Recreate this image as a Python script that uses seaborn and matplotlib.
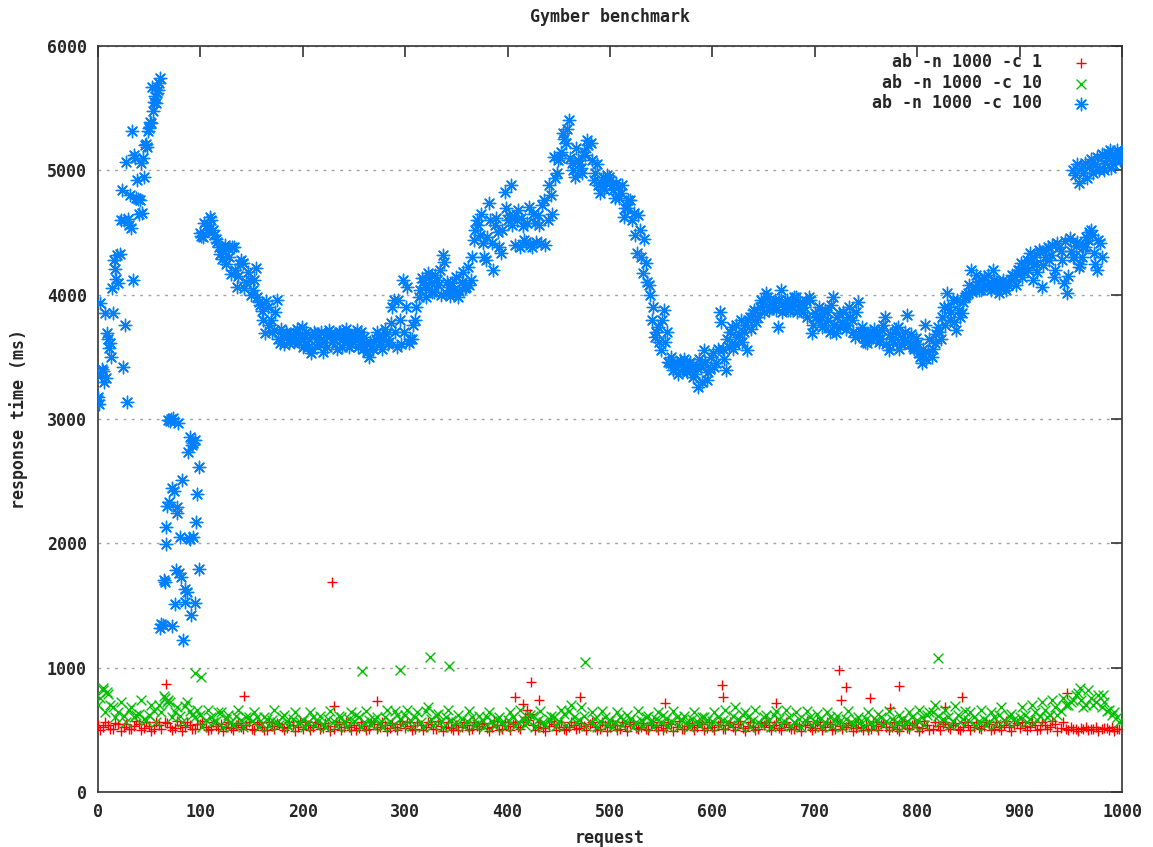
import numpy as np
import pandas as pd
import matplotlib
matplotlib.use("Agg")
import matplotlib.pyplot as plt
import seaborn as sns

# ---------------- data ----------------
title = "Gymber benchmark"
xlabel = "request"
ylabel = "response time (ms)"
labels = ["ab -n 1000 -c 1", "ab -n 1000 -c 10", "ab -n 1000 -c 100"]
x_ticks = [0, 100, 200, 300, 400, 500, 600, 700, 800, 900, 1000]
y_ticks = [0, 1000, 2000, 3000, 4000, 5000, 6000]

# -c 1 : requests 0,5,10,...  and 2,7,12,...  plus the visible outliers
red_a_ms = [
    540, 520, 535, 510, 550, 525, 505, 530, 545, 515,
    530, 510, 540, 560, 525, 515, 540, 520, 535, 510,
    545, 520, 505, 530, 550, 525, 515, 540, 520, 535,
    510, 545, 525, 500, 530, 555, 520, 515, 540, 525,
    505, 535, 520, 545, 515, 530, 510, 550, 525, 520,
    540, 515, 530, 505, 545, 520, 535, 515, 525, 550,
    515, 530, 505, 540, 520, 545, 510, 530, 525, 515,
    540, 520, 535, 505, 530, 550, 515, 525, 540, 510,
    530, 545, 520, 560, 580, 540, 525, 515, 530, 545,
    520, 505, 525, 540, 515, 530, 550, 520, 510, 535,
    525, 540, 510, 530, 545, 515, 525, 505, 540, 520,
    535, 515, 545, 525, 510, 530, 540, 520, 550, 515,
    525, 540, 510, 535, 520, 545, 515, 530, 525, 510,
    540, 520, 535, 515, 545, 525, 510, 530, 540, 520,
    515, 535, 525, 545, 510, 530, 520, 540, 515, 525,
    540, 510, 530, 545, 520, 525, 505, 535, 515, 540,
    525, 515, 540, 510, 530, 550, 520, 535, 510, 525,
    540, 520, 515, 530, 545, 510, 525, 540, 520, 535,
    515, 530, 525, 540, 510, 535, 520, 545, 515, 510,
    520, 505, 515, 525, 510, 520, 505, 515, 525, 510,
]
red_b_ms = [
    495, 565, 510, 555, 490, 550, 505, 570, 500, 560,
    490, 565, 505, 555, 495, 570, 490, 560, 505, 550,
    570, 495, 560, 505, 490, 565, 500, 555, 505, 560,
    500, 560, 495, 565, 505, 550, 500, 560, 490, 570,
    560, 495, 565, 505, 555, 490, 560, 500, 560, 500,
    495, 560, 500, 560, 505, 565, 490, 555, 500, 570,
    560, 500, 565, 495, 560, 505, 570, 490, 560, 500,
    500, 565, 495, 560, 505, 555, 490, 570, 500, 560,
    495, 560, 505, 600, 630, 500, 560, 490, 570, 500,
    560, 500, 565, 505, 555, 495, 560, 500, 565, 490,
    570, 500, 560, 490, 560, 505, 555, 495, 565, 500,
    500, 560, 490, 570, 505, 555, 500, 565, 495, 560,
    495, 565, 505, 560, 500, 570, 490, 560, 500, 555,
    560, 495, 565, 500, 560, 505, 550, 490, 570, 500,
    565, 500, 560, 495, 570, 505, 555, 490, 560, 500,
    500, 560, 495, 565, 500, 560, 490, 570, 505, 555,
    490, 570, 500, 560, 500, 565, 505, 555, 495, 560,
    500, 560, 505, 565, 495, 560, 500, 570, 490, 555,
    560, 500, 565, 495, 560, 505, 570, 490, 560, 500,
    505, 490, 510, 495, 505, 490, 515, 495, 490, 505,
]
red_out_req = [66, 143, 229, 230, 272, 407, 415, 419, 423, 431, 471, 554, 609, 610,
               662, 724, 726, 730, 754, 773, 782, 827, 844, 946]
red_out_ms = [869, 772, 1689, 692, 732, 764, 708, 660, 885, 740, 764, 716, 860, 764,
              716, 981, 740, 844, 756, 676, 853, 684, 764, 796]

# -c 10 : requests 0,5,10,...  and 2,7,12,...  plus the visible outliers
green_a_ms = [
    700, 820, 790, 680, 640, 610, 660, 600, 630, 590,
    620, 650, 700, 760, 720, 640, 610, 690, 650, 600,
    620, 580, 600, 570, 640, 590, 560, 610, 580, 600,
    570, 600, 550, 590, 580, 560, 600, 570, 590, 555,
    580, 560, 600, 575, 550, 590, 570, 610, 560, 585,
    570, 600, 560, 580, 590, 555, 600, 570, 650, 590,
    620, 580, 600, 560, 650, 590, 620, 570, 600, 580,
    560, 590, 570, 600, 550, 580, 600, 570, 590, 560,
    580, 600, 560, 590, 570, 610, 580, 560, 590, 600,
    570, 630, 650, 600, 580, 610, 560, 590, 570, 600,
    580, 560, 600, 570, 590, 560, 580, 600, 570, 590,
    560, 590, 570, 600, 580, 560, 590, 570, 600, 580,
    570, 600, 580, 560, 610, 590, 620, 600, 580, 560,
    600, 580, 620, 590, 570, 600, 560, 590, 580, 600,
    570, 590, 560, 600, 580, 570, 590, 560, 580, 570,
    590, 560, 580, 600, 570, 590, 560, 580, 570, 600,
    580, 600, 620, 640, 610, 590, 600, 570, 620, 590,
    580, 600, 570, 590, 560, 600, 620, 580, 610, 590,
    600, 620, 590, 640, 610, 660, 620, 680, 650, 700,
    720, 780, 740, 700, 760, 720, 680, 650, 620, 600,
]
green_b_ms = [
    760, 640, 700, 600, 720, 560, 680, 620, 740, 580,
    700, 560, 640, 720, 600, 680, 560, 720, 620, 660,
    520, 660, 560, 640, 520, 620, 540, 660, 520, 600,
    640, 520, 600, 530, 660, 540, 620, 520, 640, 560,
    520, 640, 540, 610, 520, 650, 530, 600, 520, 640,
    620, 520, 650, 540, 600, 520, 660, 530, 620, 540,
    660, 530, 640, 520, 680, 540, 630, 520, 660, 540,
    620, 520, 650, 540, 610, 520, 640, 530, 600, 520,
    640, 530, 660, 540, 620, 520, 650, 540, 610, 530,
    660, 540, 700, 560, 680, 530, 640, 520, 650, 540,
    520, 640, 540, 620, 520, 650, 530, 610, 520, 640,
    620, 520, 650, 530, 610, 520, 640, 540, 600, 520,
    640, 530, 660, 540, 680, 530, 640, 520, 660, 540,
    620, 520, 650, 540, 660, 530, 640, 520, 650, 540,
    630, 520, 640, 530, 610, 520, 650, 540, 600, 520,
    640, 520, 630, 540, 650, 520, 620, 530, 640, 530,
    660, 540, 640, 700, 560, 660, 540, 690, 560, 650,
    640, 530, 660, 540, 640, 550, 680, 560, 630, 560,
    680, 560, 700, 580, 720, 600, 740, 620, 760, 700,
    740, 800, 680, 820, 700, 780, 720, 660, 640, 560,
]
green_out_req = [5, 9, 64, 68, 95, 101, 258, 295, 324, 343, 476, 820, 959, 981]
green_out_ms = [836, 804, 770, 740, 957, 925, 973, 981, 1086, 1014, 1046, 1078, 836, 780]

# -c 100 : requests 0..100 (irregular), then requests 100,103,... and 101,104,...,
# plus the upper cluster at the end
blue_early_req = [0, 0, 1, 2, 3, 4, 5, 6, 7, 8, 9, 10, 11, 12, 13, 14, 15, 16, 17, 18,
                  19, 20, 21, 22, 23, 24, 25, 26, 27, 28, 29, 30, 31, 32, 33, 34, 35, 36,
                  37, 38, 39, 40, 41, 42, 43, 44, 45, 46, 47, 48, 49, 50, 51, 52, 53, 54,
                  55, 56, 57, 58, 59, 60, 61,
                  61, 62, 63, 64, 65, 66, 66, 67, 68, 69, 70, 71, 72, 72, 73, 74, 75, 76,
                  77, 77, 78, 79, 80, 81, 82, 83, 85, 85, 87, 88, 89, 90, 90, 91, 92, 93,
                  93, 95, 95, 96, 97, 99, 99]
blue_early_ms = [3150, 3180, 3120, 3930, 3350, 3400, 3390, 3300, 3850, 3330, 3690, 3640,
                 3570, 3610, 3500, 4050, 3850, 4280, 4210, 4130, 4320, 4090, 4330, 4600,
                 4840, 3420, 4600, 3760, 5070, 3140, 4610, 4560, 4800, 4540, 5320, 4120,
                 5120, 5100, 4780, 4920, 4770, 4650, 4760, 5060, 4660, 5100, 4950, 5200,
                 5210, 5190, 5320, 5340, 5390, 5380, 5670, 5480, 5550, 5600, 5540, 5620,
                 5650, 5700, 5740,
                 1319, 1351, 1340, 1705, 1690, 2131, 1995, 2300, 2992, 2332, 2980, 3000,
                 2445, 1335, 3008, 2420, 1512, 1786, 2292, 2244, 2968, 1760, 2051, 1729,
                 2509, 1223, 1633, 1528, 1609, 2735, 2040, 2855, 2035, 1424, 2790, 2051,
                 2807, 2831, 1520, 2172, 2397, 2614, 1794]
blue_a_ms = [
    4496, 4464, 4560, 4625, 4520, 4450, 4380, 4290, 4400, 4375,
    4170, 4383, 4062, 4250, 4255, 4100, 4118, 4040, 4214, 3941,
    3870, 3690, 3901, 3796, 3716, 3957, 3611, 3659, 3700, 3611,
    3680, 3692, 3620, 3740, 3660, 3580, 3531, 3700, 3640, 3600,
    3539, 3680, 3716, 3620, 3659, 3700, 3579, 3692, 3640, 3600,
    3680, 3716, 3620, 3560, 3611, 3499, 3590, 3640, 3659, 3560,
    3720, 3600, 3772, 3957, 3579, 3796, 4118, 3901, 3611, 3640,
    3796, 3981, 4134, 4062, 4174, 4094, 4020, 4118, 4200, 4319,
    4013, 4060, 4094, 4013, 3980, 4100, 4050, 4222, 4118, 4440,
    4600, 4480, 4416, 4280, 4737, 4416, 4560, 4500, 4335, 4826,
    4600, 4882, 4624, 4600, 4383, 4550, 4420, 4705, 4383, 4576,
    4640, 4416, 4761, 4600, 4802, 5107, 4978, 5100, 5300, 5220,
    5405, 5059, 4946, 5083, 5020, 5150, 5244, 5220, 4922, 5050,
    4818, 4946, 4900, 4946, 4880, 4777, 4866, 4818, 4624, 4700,
    4761, 4657, 4335, 4520, 4174, 4255, 4078, 3796, 3659, 3740,
    3555, 3877, 3700, 3450, 3394, 3450, 3475, 3400, 3394, 3440,
    3410, 3360, 3257, 3418, 3555, 3314, 3400, 3531, 3450, 3861,
    3560, 3394, 3579, 3740, 3600, 3659, 3796, 3700, 3555, 3820,
    3853, 3780, 3901, 3940, 4013, 3880, 3920, 3957, 3740, 4038,
    3900, 3960, 3877, 3940, 3981, 3900, 3860, 3950, 3981, 3692,
    3853, 3796, 3820, 3760, 3860, 3700, 3981, 3692, 3853, 3780,
    3720, 3901, 3800, 3659, 3941, 3700, 3650, 3611, 3700, 3660,
    3659, 3620, 3716, 3820, 3555, 3640, 3700, 3740, 3600, 3635,
    3837, 3600, 3579, 3650, 3531, 3450, 3756, 3540, 3500, 3611,
    3740, 3640, 3901, 4013, 3800, 3957, 3716, 3880, 3853, 3980,
    4013, 4198, 4062, 4100, 4040, 4142, 4080, 4060, 4198, 4100,
    4013, 4094, 4060, 4080, 4118, 4150, 4200, 4255, 4180, 4280,
    4335, 4118, 4250, 4359, 4062, 4300, 4383, 4320, 4142, 4416,
    4350, 4094, 4013, 4456, 4303, 4390, 4222, 4303, 4380, 4440,
    4520, 4335, 4198, 4416, 5003, 5100, 5163, 5050, 5083, 5120,
]
blue_b_ms = [
    4470, 4580, 4520, 4600, 4480, 4420, 4330, 4360, 4250, 4300,
    4380, 4200, 4150, 4280, 4050, 4180, 4000, 4120, 3980, 3920,
    3800, 3950, 3760, 3700, 3860, 3640, 3720, 3600, 3680, 3650,
    3620, 3720, 3660, 3580, 3700, 3640, 3560, 3680, 3620, 3700,
    3620, 3580, 3680, 3640, 3560, 3700, 3640, 3720, 3580, 3660,
    3640, 3580, 3700, 3660, 3540, 3620, 3560, 3700, 3600, 3640,
    3680, 3620, 3900, 3700, 3960, 3600, 3700, 4060, 3640, 3760,
    3900, 4040, 4100, 3980, 4140, 4020, 4160, 4080, 4000, 4260,
    4100, 3990, 4040, 4140, 4030, 4180, 4060, 4080, 4300, 4520,
    4560, 4650, 4300, 4460, 4600, 4200, 4620, 4380, 4520, 4700,
    4640, 4560, 4400, 4680, 4620, 4440, 4580, 4400, 4650, 4420,
    4560, 4720, 4400, 4880, 4650, 4940, 5080, 5150, 5250, 5330,
    5100, 5000, 5180, 5050, 4980, 5120, 5200, 5080, 4980, 4880,
    4900, 4850, 4960, 4920, 4840, 4900, 4780, 4880, 4700, 4760,
    4600, 4480, 4640, 4300, 4450, 4100, 4000, 3900, 3700, 3620,
    3800, 3620, 3460, 3500, 3420, 3360, 3440, 3480, 3380, 3460,
    3340, 3420, 3480, 3300, 3460, 3380, 3500, 3420, 3560, 3780,
    3480, 3640, 3700, 3560, 3760, 3680, 3620, 3760, 3800, 3720,
    3880, 3820, 3960, 3860, 3980, 3900, 3940, 3880, 3960, 3860,
    3940, 3880, 3920, 3980, 3860, 3940, 3900, 3820, 3960, 3760,
    3820, 3900, 3740, 3880, 3800, 3920, 3760, 3820, 3740, 3860,
    3760, 3820, 3700, 3860, 3680, 3740, 3620, 3680, 3640, 3720,
    3700, 3640, 3760, 3600, 3680, 3620, 3720, 3560, 3660, 3700,
    3620, 3680, 3560, 3600, 3500, 3560, 3480, 3640, 3560, 3680,
    3700, 3820, 3760, 3900, 3860, 3780, 3960, 3820, 3940, 4000,
    4080, 4020, 4160, 4040, 4120, 4080, 4160, 4040, 4120, 4060,
    4060, 4120, 4040, 4100, 4160, 4080, 4200, 4140, 4220, 4200,
    4260, 4300, 4180, 4340, 4240, 4360, 4280, 4400, 4200, 4380,
    4280, 4430, 4150, 4350, 4300, 4420, 4250, 4380, 4460, 4500,
    4480, 4250, 4440, 4300, 5060, 5140, 5020, 5100, 5160, 5080,
]
blue_tail_req = [952, 954, 956, 958, 960, 962, 964, 966, 968, 970, 972, 974, 976, 978, 980, 1000]
blue_tail_ms = [5003, 4960, 5050, 4898, 5020, 4980, 5060, 4940, 5027, 5090, 4980, 5050,
                5107, 5000, 5130, 5150]

# ---------------- assemble tables ----------------
red = pd.DataFrame({
    "request": np.concatenate([np.arange(0, 1000, 5), np.arange(2, 1000, 5), red_out_req]),
    "ms": np.concatenate([red_a_ms, red_b_ms, red_out_ms]),
})
green = pd.DataFrame({
    "request": np.concatenate([np.arange(0, 1000, 5), np.arange(2, 1000, 5), green_out_req]),
    "ms": np.concatenate([green_a_ms, green_b_ms, green_out_ms]),
})
blue = pd.DataFrame({
    "request": np.concatenate([blue_early_req, np.arange(100, 1000, 3),
                               np.arange(101, 1000, 3), blue_tail_req]),
    "ms": np.concatenate([blue_early_ms, blue_a_ms, blue_b_ms, blue_tail_ms]),
})

# ---------------- style ----------------
sns.set_style("white")
plt.rcParams["font.family"] = ["DejaVu Sans Mono", "DejaVu Sans"]
plt.rcParams["font.weight"] = "bold"

W, H = 1153, 847
fig = plt.figure(figsize=(W / 100, H / 100), dpi=100)
ax = fig.add_axes([98 / W, 1 - 792 / H, 1024 / W, 746 / H])

sns.scatterplot(data=red, x="request", y="ms", ax=ax, marker="+", color="#FF0000",
                s=55, linewidth=1.0, label=labels[0], zorder=3)
sns.scatterplot(data=green, x="request", y="ms", ax=ax, marker="x", color="#00C000",
                s=50, linewidth=1.0, label=labels[1], zorder=4)
sns.scatterplot(data=blue, x="request", y="ms", ax=ax, marker=(8, 2, 0), color="#0080FF",
                s=80, linewidth=1.0, label=labels[2], zorder=5)

ax.set_xlim(0, 1000)
ax.set_ylim(0, 6000)
ax.set_xticks(x_ticks)
ax.set_yticks(y_ticks)
ax.set_xlabel("")
ax.set_ylabel("")
ax.yaxis.grid(True, linestyle=(0, (2, 4)), color="#a0a0a0", linewidth=1.0)
ax.xaxis.grid(False)
ax.set_axisbelow(True)
for sp in ax.spines.values():
    sp.set_color("#333333")
    sp.set_linewidth(1.2)
ax.tick_params(axis="both", direction="in", length=8, width=1.2, color="#333333",
               top=True, right=True, labelsize=12)
ax.tick_params(axis="y", pad=8)
ax.tick_params(axis="x", pad=8)

fig.text(610 / W, 1 - 17 / H, title, ha="center", va="center", fontsize=12, fontweight="bold")
fig.text(610 / W, 1 - 838 / H, xlabel, ha="center", va="center", fontsize=12, fontweight="bold")
fig.text(19 / W, 1 - 419 / H, ylabel, ha="center", va="center", rotation=90,
         fontsize=12, fontweight="bold")

leg = ax.legend(loc="upper right", bbox_to_anchor=(0.976, 0.99), frameon=False,
                markerfirst=False, handletextpad=1.3, labelspacing=0.15,
                borderpad=0, borderaxespad=0, fontsize=12, handlelength=2)

fig.savefig("out.png", dpi=100)
